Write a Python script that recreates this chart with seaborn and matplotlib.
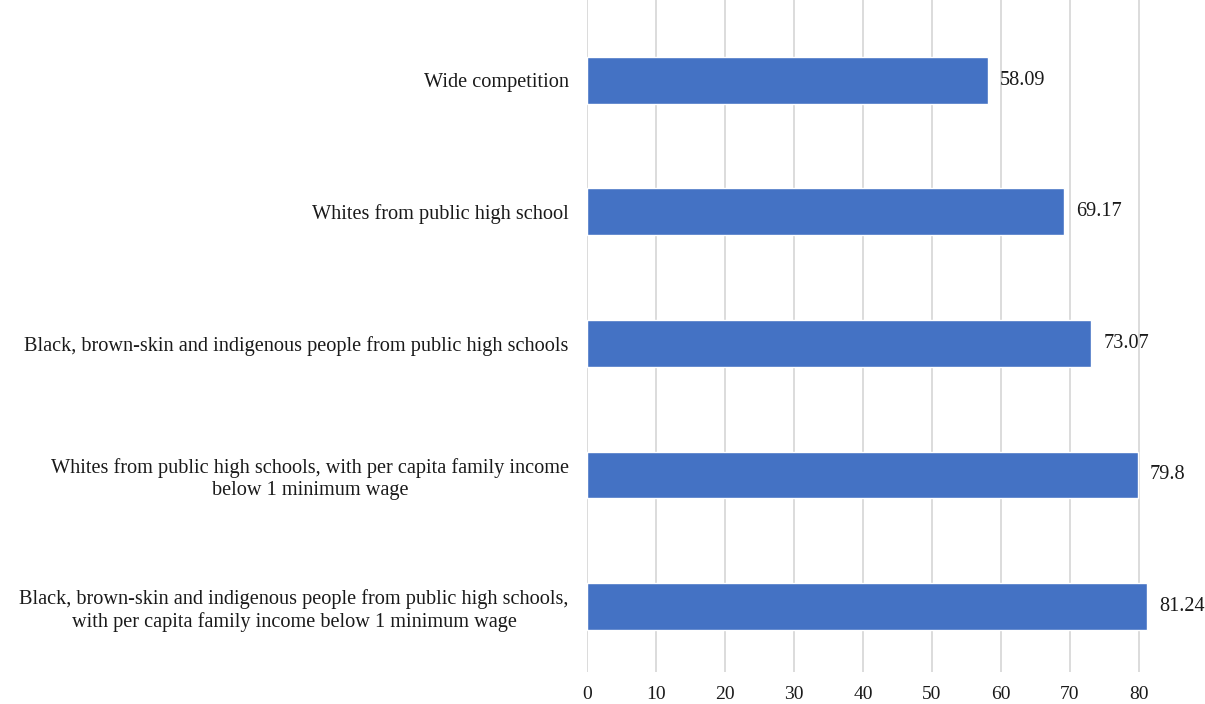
import matplotlib
matplotlib.use("Agg")
import matplotlib.pyplot as plt
import seaborn as sns
import pandas as pd

categories = [
    "Wide competition",
    "Whites from public high school",
    "Black, brown-skin and indigenous people from public high schools",
    "Whites from public high schools, with per capita family income\nbelow 1 minimum wage",
    "Black, brown-skin and indigenous people from public high schools,\nwith per capita family income below 1 minimum wage",
]
values = [58.09, 69.17, 73.07, 79.8, 81.24]
value_labels = ["58.09", "69.17", "73.07", "79.8", "81.24"]
xticks = [0, 10, 20, 30, 40, 50, 60, 70, 80]

sns.set_theme(style="white")
plt.rcParams['font.family'] = ['Liberation Serif', 'DejaVu Serif']

df = pd.DataFrame({"cat": categories, "val": values})

fig = plt.figure(figsize=(12.05, 7.04), dpi=100)
ax = fig.add_axes([0.487, 0.045, 0.508, 0.955])
sns.barplot(data=df, y="cat", x="val", orient="h", color="#4472C4",
            saturation=1, width=0.355, ax=ax)

ax.set_xlim(0, 88.7)
ax.set_ylim(4.5, -0.61)
ax.set_xticks(xticks)
ax.set_xticklabels([str(t) for t in xticks], fontsize=14, color="#1a1a1a")
ax.tick_params(axis="x", length=0, pad=10)
ax.tick_params(axis="y", length=0, pad=13)
for lbl in ax.get_yticklabels():
    lbl.set_fontsize(14.6)
    lbl.set_color("#1a1a1a")
    lbl.set_horizontalalignment("right")
    lbl.set_multialignment("center")
ax.set_xlabel("")
ax.set_ylabel("")
ax.grid(axis="x", color="#D9D9D9", linewidth=1.3)
ax.set_axisbelow(True)
for s in ax.spines.values():
    s.set_visible(False)

for i, (v, t) in enumerate(zip(values, value_labels)):
    ax.text(v + 1.75, i, t, va="center", ha="left", fontsize=14.6, color="#1a1a1a")

fig.savefig("out.png", dpi=100)
